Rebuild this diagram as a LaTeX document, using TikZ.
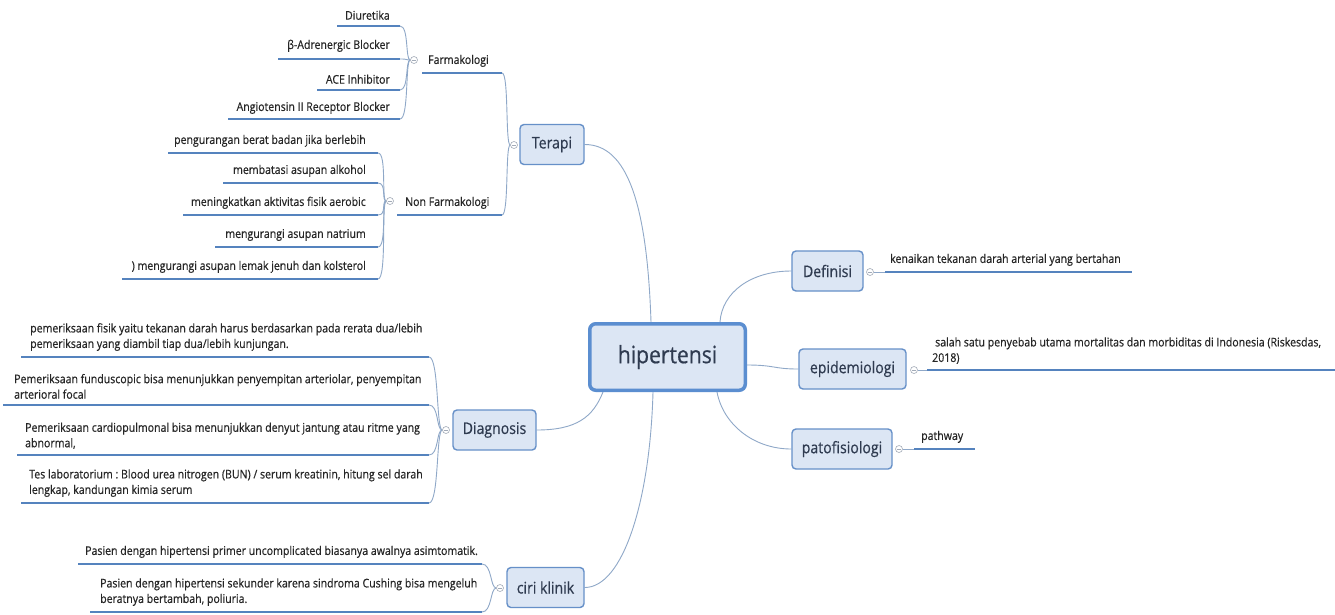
\documentclass[tikz,border=0pt]{standalone}
\usepackage{fontspec}
\setmainfont{Open Sans}[FakeStretch=0.88, FakeBold=0.5]
\frenchspacing
\usetikzlibrary{calc}
\pgfdeclarelayer{links}
\pgfsetlayers{links,main}

\definecolor{boxfill}{HTML}{DCE6F4}
\definecolor{boxline}{HTML}{6690C8}
\definecolor{hubline}{HTML}{5B8ED0}
\definecolor{ulcol}{HTML}{5583BE}
\definecolor{conncol}{HTML}{8FA8C8}
\definecolor{txt}{HTML}{262626}
\definecolor{boxtxt}{HTML}{2F3B50}
\definecolor{markcol}{HTML}{A3ABB8}

\begin{document}
\begin{tikzpicture}[x=1pt,y=-1pt,
  hub/.style={draw=hubline, line width=3.5pt, fill=boxfill, rounded corners=6pt,
    minimum width=155.5pt, minimum height=66.5pt, inner sep=0,
    font=\fontsize{24}{28}\selectfont, text=boxtxt},
  topic/.style={draw=boxline, line width=1.4pt, fill=boxfill, rounded corners=4pt,
    minimum height=40pt, inner sep=0, font=\fontsize{16}{19}\selectfont, text=boxtxt},
  leaf/.style={font=\fontsize{12}{15.5}\selectfont, text=txt, inner sep=0, align=left},
  leafr/.style={leaf, align=right},
  uline/.style={draw=ulcol, line width=2.8pt},
  conn/.style={draw=conncol, line width=0.9pt},
  fold/.style={circle, draw=markcol, line width=0.6pt, fill=white, minimum size=7pt, inner sep=0,
    path picture={\draw[markcol, line width=0.6pt]
      ([xshift=-2pt]path picture bounding box.center) -- ([xshift=2pt]path picture bounding box.center);}},
]
\begin{pgfonlayer}{links}
\fill[white] (0,0) rectangle (1335,614);
\end{pgfonlayer}
\useasboundingbox (0,0) rectangle (1335,614);

% central topic and main branches
\node[hub] (hip) at (667.5,357) {hipertensi};
\node[topic, minimum width=64pt] (ter) at (552,144.5) {Terapi};
\node[topic, minimum width=83pt] (dia) at (494.5,430) {Diagnosis};
\node[topic, minimum width=77pt] (cir) at (545.5,587.5) {ciri klinik};
\node[topic, minimum width=71pt] (def) at (827.5,271) {Definisi};
\node[topic, minimum width=107pt] (epi) at (852.5,369) {epidemiologi};
\node[topic, minimum width=100pt] (pat) at (842,449) {patofisiologi};

% fold markers
\node[fold] (mT) at (514,145) {};
\node[fold] (mF) at (414,60) {};
\node[fold] (mN) at (390,201) {};
\node[fold] (mD) at (446,430) {};
\node[fold] (mC) at (500,588) {};
\node[fold] (mDef) at (870,272) {};
\node[fold] (mE) at (914,370) {};
\node[fold] (mP) at (899,449) {};

\begin{pgfonlayer}{links}
\draw[conn] (ter.east) .. controls +(42,0) and +(-4,-120) .. ([xshift=63pt]hip.north west);
\draw[conn] (def.west) .. controls +(-40,0) and +(2,-30) .. ([xshift=-27pt]hip.north east);
\draw[conn] ([yshift=-8pt]hip.east) .. controls +(28,0) and +(-25,0) .. (epi.west);
\draw[conn] ([xshift=-30pt]hip.south east) .. controls +(6,32) and +(-38,0) .. (pat.west);
\draw[conn] (dia.east) .. controls +(40,0) and +(-10,25) .. ([xshift=15pt]hip.south west);
\draw[conn] (cir.east) .. controls +(38,0) and +(-3,110) .. ([xshift=65pt]hip.south west);
\end{pgfonlayer}

% Terapi: Farmakologi / Non Farmakologi
\node[leaf, anchor=south west] (farm) at (428,67) {Farmakologi};
\coordinate (farmL) at (422,73); \coordinate (farmR) at (502,73);
\node[leaf, anchor=south west] (nonf) at (405,209) {Non Farmakologi};
\coordinate (nonfL) at (397,215); \coordinate (nonfR) at (502,215);

% Farmakologi items
\node[leafr, anchor=south east] (f1) at (390,20) {Diuretika};
\coordinate (f1L) at (337,26); \coordinate (f1R) at (400,26);
\node[leafr, anchor=south east] (f2) at (390,52) {β-Adrenergic Blocker};
\coordinate (f2L) at (278,59); \coordinate (f2R) at (400,59);
\node[leafr, anchor=south east] (f3) at (390,84) {ACE Inhibitor};
\coordinate (f3L) at (317,90); \coordinate (f3R) at (400,90);
\node[leafr, anchor=south east] (f4) at (390,114) {Angiotensin II Receptor Blocker};
\coordinate (f4L) at (228,119); \coordinate (f4R) at (400,119);

% Non Farmakologi items
\node[leafr, anchor=south east] (n1) at (366,147) {pengurangan berat badan jika berlebih};
\coordinate (n1L) at (168,153); \coordinate (n1R) at (378,153);
\node[leafr, anchor=south east] (n2) at (366,177) {membatasi asupan alkohol};
\coordinate (n2L) at (223,183); \coordinate (n2R) at (378,183);
\node[leafr, anchor=south east] (n3) at (366,209) {meningkatkan aktivitas fisik aerobic};
\coordinate (n3L) at (183,215); \coordinate (n3R) at (378,215);
\node[leafr, anchor=south east] (n4) at (366,241) {mengurangi asupan natrium};
\coordinate (n4L) at (215,247); \coordinate (n4R) at (378,247);
\node[leafr, anchor=south east] (n5) at (366,273) {) mengurangi asupan lemak jenuh dan kolsterol};
\coordinate (n5L) at (122,279); \coordinate (n5R) at (378,279);

% Diagnosis items
\node[leaf, anchor=south west] (d1) at (30,351) {pemeriksaan fisik yaitu tekanan darah harus berdasarkan pada rerata dua/lebih\\pemeriksaan yang diambil tiap dua/lebih kunjungan.};
\coordinate (d1L) at (21,357); \coordinate (d1R) at (429,357);
\node[leaf, anchor=south west] (d2) at (14,399) {Pemeriksaan funduscopic bisa menunjukkan penyempitan arteriolar, penyempitan\\arterioral focal};
\coordinate (d2L) at (3,405); \coordinate (d2R) at (429,405);
\node[leaf, anchor=south west] (d3) at (25,449) {Pemeriksaan cardiopulmonal bisa menunjukkan denyut jantung atau ritme yang\\abnormal,};
\coordinate (d3L) at (17,455); \coordinate (d3R) at (429,455);
\node[leaf, anchor=south west] (d4) at (29,497) {Tes laboratorium : Blood urea nitrogen (BUN) / serum kreatinin, hitung sel darah\\lengkap, kandungan kimia serum};
\coordinate (d4L) at (21,503); \coordinate (d4R) at (429,503);

% ciri klinik items
\node[leaf, anchor=south west] (c1) at (85,558) {Pasien dengan hipertensi primer uncomplicated biasanya awalnya asimtomatik.};
\coordinate (c1L) at (78,564); \coordinate (c1R) at (482,564);
\node[leaf, anchor=south west] (c2) at (100,606) {Pasien dengan hipertensi sekunder karena sindroma Cushing bisa mengeluh\\beratnya bertambah, poliuria.};
\coordinate (c2L) at (90,612); \coordinate (c2R) at (482,612);

% right-hand branches
\node[leaf, anchor=south west] (r1) at (890,266) {kenaikan tekanan darah arterial yang bertahan};
\coordinate (r1L) at (885,272); \coordinate (r1R) at (1132,272);
\node[leaf, anchor=south west] (r2) at (932,364) {\hspace*{3pt}salah satu penyebab utama mortalitas dan morbiditas di Indonesia (Riskesdas,\\2018)};
\coordinate (r2L) at (927,370); \coordinate (r2R) at (1335,370);
\node[leaf, anchor=south west] (r3) at (921,443) {pathway};
\coordinate (r3L) at (914,449); \coordinate (r3R) at (975,449);

\begin{pgfonlayer}{links}
% sub-branch links
\draw[conn] (farmR) .. controls +(7,0) and +(-5,0) .. (mT.west);
\draw[conn] (nonfR) .. controls +(7,0) and +(-5,0) .. (mT.west);
\foreach \k in {f1,f2,f3,f4}
  \draw[conn] (\k R) .. controls +(9,0) and +(-5,0) .. (mF.west);
\foreach \k in {n1,n2,n3,n4,n5}
  \draw[conn] (\k R) .. controls +(9,0) and +(-5,0) .. (mN.west);
\foreach \k in {d1,d2,d3,d4}
  \draw[conn] (\k R) .. controls +(10,0) and +(-6,0) .. (mD.west);
\foreach \k in {c1,c2}
  \draw[conn] (\k R) .. controls +(10,0) and +(-6,0) .. (mC.west);
\draw[conn] (mDef.east) -- (r1L);
\draw[conn] (mE.east) -- (r2L);
\draw[conn] (mP.east) -- (r3L);
\end{pgfonlayer}

% underlines under the text items
\foreach \k in {farm,nonf}
  \draw[uline] (\k L) -- (\k R);
\foreach \k in {f1,f2,f3,f4,n1,n2,n3,n4,n5,d1,d2,d3,d4,c1,c2,r1,r2,r3}
  \draw[uline] (\k L) -- (\k R);
\end{tikzpicture}
\end{document}
